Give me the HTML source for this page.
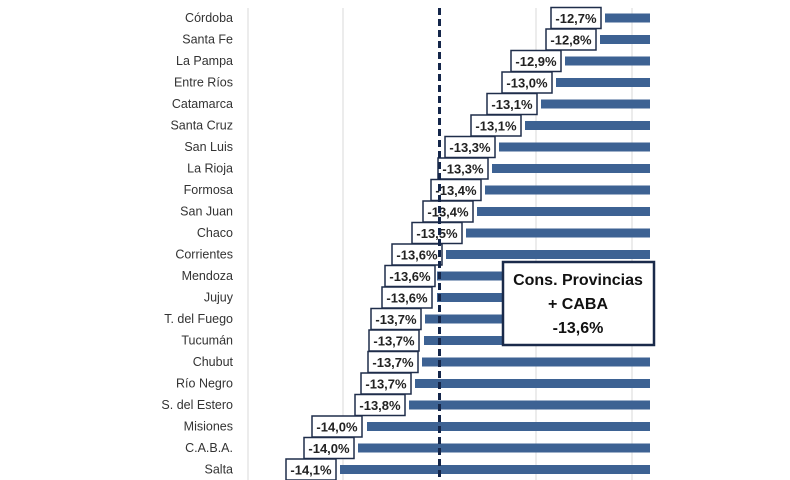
<!DOCTYPE html>
<html><head><meta charset="utf-8"><style>
html,body{margin:0;padding:0;background:#fff;}
svg{display:block;}
.c{font-family:"Liberation Sans",sans-serif;font-size:12.5px;fill:#333;text-anchor:end;}
.v{font-family:"Liberation Sans",sans-serif;font-size:13px;font-weight:bold;fill:#222;text-anchor:middle;}
.b{fill:#fff;stroke:#1f2d4a;stroke-width:1.5;}
.t{font-family:"Liberation Sans",sans-serif;font-size:16px;font-weight:bold;fill:#111;text-anchor:middle;}
</style></head><body>
<svg width="790" height="480" xmlns="http://www.w3.org/2000/svg">
<g stroke="#d9d9d9" stroke-width="1">
<line x1="248" y1="8" x2="248" y2="480"/><line x1="343" y1="8" x2="343" y2="480"/>
<line x1="536" y1="8" x2="536" y2="480"/><line x1="632" y1="8" x2="632" y2="480"/>
</g>
<g fill="#3d6293">
<rect x="605" y="13.5" width="45" height="9"/>
<rect x="600" y="35" width="50" height="9"/>
<rect x="565" y="56.5" width="85" height="9"/>
<rect x="556" y="78" width="94" height="9"/>
<rect x="541" y="99.5" width="109" height="9"/>
<rect x="525" y="121" width="125" height="9"/>
<rect x="499" y="142.5" width="151" height="9"/>
<rect x="492" y="164" width="158" height="9"/>
<rect x="485" y="185.5" width="165" height="9"/>
<rect x="477" y="207" width="173" height="9"/>
<rect x="466" y="228.5" width="184" height="9"/>
<rect x="446" y="250" width="204" height="9"/>
<rect x="437" y="271.5" width="213" height="9"/>
<rect x="437" y="293" width="213" height="9"/>
<rect x="425" y="314.5" width="225" height="9"/>
<rect x="424" y="336" width="226" height="9"/>
<rect x="422" y="357.5" width="228" height="9"/>
<rect x="415" y="379" width="235" height="9"/>
<rect x="409" y="400.5" width="241" height="9"/>
<rect x="367" y="422" width="283" height="9"/>
<rect x="358" y="443.5" width="292" height="9"/>
<rect x="340" y="465" width="310" height="9"/>
</g>
<g>
<text class="c" x="233" y="22">Córdoba</text>
<text class="c" x="233" y="43.5">Santa Fe</text>
<text class="c" x="233" y="65">La Pampa</text>
<text class="c" x="233" y="86.5">Entre Ríos</text>
<text class="c" x="233" y="108">Catamarca</text>
<text class="c" x="233" y="129.5">Santa Cruz</text>
<text class="c" x="233" y="151">San Luis</text>
<text class="c" x="233" y="172.5">La Rioja</text>
<text class="c" x="233" y="194">Formosa</text>
<text class="c" x="233" y="215.5">San Juan</text>
<text class="c" x="233" y="237">Chaco</text>
<text class="c" x="233" y="258.5">Corrientes</text>
<text class="c" x="233" y="280">Mendoza</text>
<text class="c" x="233" y="301.5">Jujuy</text>
<text class="c" x="233" y="323">T. del Fuego</text>
<text class="c" x="233" y="344.5">Tucumán</text>
<text class="c" x="233" y="366">Chubut</text>
<text class="c" x="233" y="387.5">Río Negro</text>
<text class="c" x="233" y="409">S. del Estero</text>
<text class="c" x="233" y="430.5">Misiones</text>
<text class="c" x="233" y="452">C.A.B.A.</text>
<text class="c" x="233" y="473.5">Salta</text>
</g>
<g>
<rect class="b" x="551" y="7.5" width="50" height="21"/><text class="v" x="576" y="23">-12,7%</text>
<rect class="b" x="546" y="29" width="50" height="21"/><text class="v" x="571" y="44.5">-12,8%</text>
<rect class="b" x="511" y="50.5" width="50" height="21"/><text class="v" x="536" y="66">-12,9%</text>
<rect class="b" x="502" y="72" width="50" height="21"/><text class="v" x="527" y="87.5">-13,0%</text>
<rect class="b" x="487" y="93.5" width="50" height="21"/><text class="v" x="512" y="109">-13,1%</text>
<rect class="b" x="471" y="115" width="50" height="21"/><text class="v" x="496" y="130.5">-13,1%</text>
<rect class="b" x="445" y="136.5" width="50" height="21"/><text class="v" x="470" y="152">-13,3%</text>
<rect class="b" x="438" y="158" width="50" height="21"/><text class="v" x="463" y="173.5">-13,3%</text>
<rect class="b" x="431" y="179.5" width="50" height="21"/><text class="v" x="456" y="195">-13,4%</text>
<rect class="b" x="423" y="201" width="50" height="21"/><text class="v" x="448" y="216.5">-13,4%</text>
<rect class="b" x="412" y="222.5" width="50" height="21"/><text class="v" x="437" y="238">-13,5%</text>
<rect class="b" x="392" y="244" width="50" height="21"/><text class="v" x="417" y="259.5">-13,6%</text>
<rect class="b" x="385" y="265.5" width="50" height="21"/><text class="v" x="410" y="281">-13,6%</text>
<rect class="b" x="382" y="287" width="50" height="21"/><text class="v" x="407" y="302.5">-13,6%</text>
<rect class="b" x="371" y="308.5" width="50" height="21"/><text class="v" x="396" y="324">-13,7%</text>
<rect class="b" x="369" y="330" width="50" height="21"/><text class="v" x="394" y="345.5">-13,7%</text>
<rect class="b" x="368" y="351.5" width="50" height="21"/><text class="v" x="393" y="367">-13,7%</text>
<rect class="b" x="361" y="373" width="50" height="21"/><text class="v" x="386" y="388.5">-13,7%</text>
<rect class="b" x="355" y="394.5" width="50" height="21"/><text class="v" x="380" y="410">-13,8%</text>
<rect class="b" x="312" y="416" width="50" height="21"/><text class="v" x="337" y="431.5">-14,0%</text>
<rect class="b" x="304" y="437.5" width="50" height="21"/><text class="v" x="329" y="453">-14,0%</text>
<rect class="b" x="286" y="459" width="50" height="21"/><text class="v" x="311" y="474.5">-14,1%</text>
</g>
<line x1="439.5" y1="8" x2="439.5" y2="480" stroke="#14264a" stroke-width="3" stroke-dasharray="7 4"/>
<rect x="503" y="262" width="151" height="83" fill="#fff" stroke="#1a2a4a" stroke-width="2.5"/>
<text class="t" x="578" y="285">Cons. Provincias</text>
<text class="t" x="578" y="309">+ CABA</text>
<text class="t" x="578" y="333">-13,6%</text>
</svg>
</body></html>
